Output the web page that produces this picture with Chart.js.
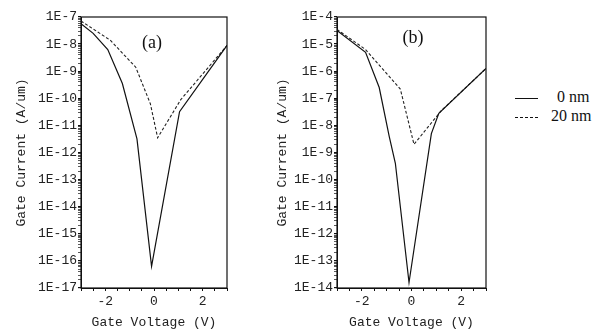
<!DOCTYPE html>
<html lang="en">
<head>
    <meta charset="UTF-8">
    <title>Gate Current vs Gate Voltage</title>
    <script src="https://cdn.jsdelivr.net/npm/chart.js@4.4.1/dist/chart.umd.min.js"></script>
    <style>
        body { margin: 0; background: #fff; }
        #wrap { position: relative; width: 609px; height: 331px; overflow: hidden; }
        .panel { position: absolute; top: 0; }
        .tag { position: absolute; font-family: "Liberation Serif"; font-size: 18px; color: #111; transform: translate(-50%, -50%); }
        .leg { position: absolute; font-family: "Liberation Serif"; font-size: 16px; color: #111; }
        .sample { position: absolute; left: 515px; width: 23px; height: 0; border-top: 1.3px solid #111; }
        .sample.dash { border-top-style: dashed; }
    </style>
</head>
<body>
<div id="wrap">
    <div class="panel" style="left:0; width:235px; height:331px;"><canvas id="chartA"></canvas></div>
    <div class="panel" style="left:255px; width:240px; height:331px;"><canvas id="chartB"></canvas></div>
    <div class="tag" style="left:152px; top:42px;">(a)</div>
    <div class="tag" style="left:413px; top:37px;">(b)</div>
    <div class="sample" style="top:98px;"></div>
    <div class="leg" style="left:557px; top:88px;">0 nm</div>
    <div class="sample dash" style="top:117px;"></div>
    <div class="leg" style="left:551px; top:107px;">20 nm</div>
</div>
<script>
    // panel (a): 1E-17 .. 1E-7
    const aSolidV = [-3, -2.5, -1.9, -1.3, -0.7, -0.1, 1.05, 3];
    const aSolidI = [5.6e-8, 2.5e-8, 6.3e-9, 3.5e-10, 3.2e-12, 6.3e-17, 3.2e-11, 8.9e-9];
    const aDashV = [-3, -1.8, -0.75, -0.15, 0.15, 1.1, 3];
    const aDashI = [7.1e-8, 1.4e-8, 1.4e-9, 6.3e-11, 3.5e-12, 8.9e-11, 8.9e-9];

    // panel (b): 1E-14 .. 1E-4
    const bSolidV = [-3, -1.85, -1.3, -0.9, -0.65, -0.1, 0.8, 1.1, 3];
    const bSolidI = [3.2e-5, 5e-6, 2.5e-7, 4e-9, 4e-10, 1.6e-14, 5e-9, 2.8e-8, 1.26e-6];
    const bDashV = [-3, -1.85, -0.45, 0.1, 1.2, 3];
    const bDashI = [3.5e-5, 6.3e-6, 2.2e-7, 2e-9, 3.5e-8, 1.26e-6];

    const xTickLabels = [-2, 0, 2];
    const seriesNames = ['0 nm', '20 nm'];

    const monoTick = { family: 'Liberation Mono', size: 13 };
    const monoTitle = { family: 'Liberation Mono', size: 13 };

    function pts(xs, ys) {
        return xs.map((x, i) => ({ x: x, y: ys[i] }));
    }

    // major + minor ticks for every decade (1..9 x 10^n)
    function logTicks(axis) {
        const lo = Math.round(Math.log10(axis.min));
        const hi = Math.round(Math.log10(axis.max));
        const t = [];
        for (let e = lo; e < hi; e++) {
            for (let s = 1; s < 10; s++) t.push({ value: s * Math.pow(10, e), major: s === 1 });
        }
        t.push({ value: Math.pow(10, hi), major: true });
        axis.ticks = t;
    }

    const framePlugin = {
        id: 'frame',
        afterDatasetsDraw(chart) {
            const a = chart.chartArea;
            const ctx = chart.ctx;
            ctx.save();
            ctx.strokeStyle = '#111';
            ctx.lineWidth = 1.2;
            ctx.strokeRect(a.left, a.top, a.right - a.left, a.bottom - a.top);
            ctx.restore();
        }
    };

    function makeChart(id, solidV, solidI, dashV, dashI, yMin, yMax, yAxisWidth, titlePad, rightPad) {
        const ctx = document.getElementById(id).getContext('2d');
        return new Chart(ctx, {
            type: 'line',
            data: {
                datasets: [{
                    label: seriesNames[0],
                    data: pts(solidV, solidI),
                    borderColor: '#111',
                    borderWidth: 1.2,
                    pointRadius: 0,
                    tension: 0
                }, {
                    label: seriesNames[1],
                    data: pts(dashV, dashI),
                    borderColor: '#222',
                    borderWidth: 1.1,
                    borderDash: [3, 2],
                    pointRadius: 0,
                    tension: 0
                }]
            },
            options: {
                responsive: true,
                maintainAspectRatio: false,
                animation: false,
                layout: { padding: { top: 17, right: rightPad, bottom: 0, left: 0 } },
                plugins: { legend: { display: false }, tooltip: { enabled: false } },
                scales: {
                    x: {
                        type: 'linear',
                        min: -3,
                        max: 3,
                        afterFit: (axis) => { axis.height = 43; },
                        grid: { drawOnChartArea: false, tickLength: 3, color: '#111' },
                        border: { color: '#111' },
                        ticks: {
                            stepSize: 0.5,
                            autoSkip: false,
                            maxRotation: 0,
                            padding: 3,
                            color: '#222',
                            font: monoTick,
                            callback: (v) => xTickLabels.includes(v) ? String(v) : ''
                        },
                        title: {
                            display: true,
                            text: 'Gate Voltage (V)',
                            color: '#222',
                            font: monoTitle,
                            padding: { top: 0, bottom: 1 }
                        }
                    },
                    y: {
                        type: 'logarithmic',
                        min: yMin,
                        max: yMax,
                        afterFit: (axis) => { axis.width = yAxisWidth; },
                        afterBuildTicks: logTicks,
                        grid: {
                            drawOnChartArea: false,
                            tickLength: 3,
                            color: '#111',
                            lineWidth: (c) => (c.tick && c.tick.major) ? 1.2 : 0.7
                        },
                        border: { color: '#111' },
                        ticks: {
                            autoSkip: false,
                            padding: 1,
                            color: '#222',
                            font: monoTick,
                            callback: (v) => {
                                const e = Math.log10(v);
                                return Math.abs(e - Math.round(e)) < 1e-9 ? '1E' + Math.round(e) : '';
                            }
                        },
                        title: {
                            display: true,
                            text: 'Gate Current (A/um)',
                            color: '#222',
                            font: monoTitle,
                            padding: { top: titlePad, bottom: 0 }
                        }
                    }
                }
            },
            plugins: [framePlugin]
        });
    }

    makeChart('chartA', aSolidV, aSolidI, aDashV, aDashI, 1e-17, 1e-7, 81, 14, 8);
    makeChart('chartB', bSolidV, bSolidI, bDashV, bDashI, 1e-14, 1e-4, 82, 20, 9);
</script>
</body>
</html>
